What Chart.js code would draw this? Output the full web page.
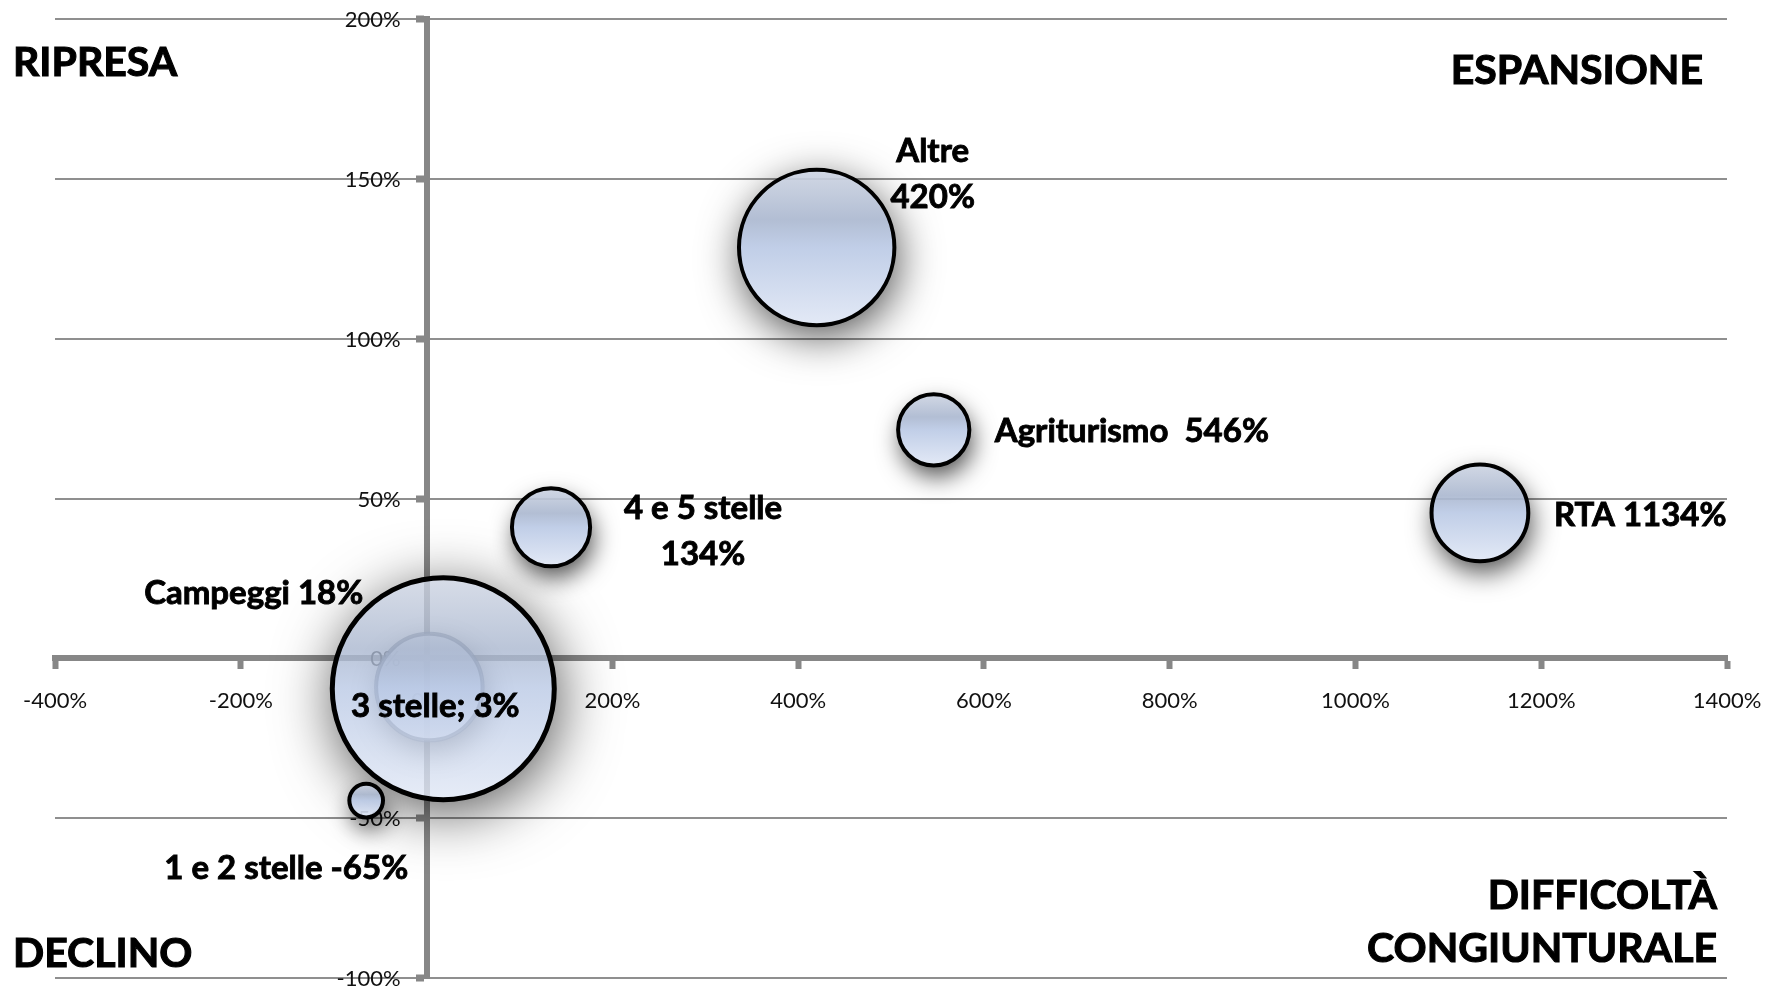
<!DOCTYPE html>
<html>
<head>
<meta charset="utf-8">
<script src="https://cdn.jsdelivr.net/npm/chart.js@4.4.1/dist/chart.umd.min.js"></script>
<style>
html, body { margin: 0; padding: 0; background: #fff; }
#wrap { width: 1779px; height: 989px; }
</style>
</head>
<body>
<div id="wrap"><canvas id="bubbleChart" width="1779" height="989"></canvas></div>
<script>
// dati (variazione % sull'asse x, variazione % sull'asse y, dimensione bolla)
const categorie = ['Altre', 'Agriturismo', '4 e 5 stelle', 'RTA', '3 stelle', 'Campeggi', '1 e 2 stelle'];
const variazioneX = [420, 546, 134, 1134, 3, 18, -65];
const variazioneY = [128.5, 71.5, 41, 45.5, -9, -9.5, -44.5];
const dimensioni = [49, 10.3, 12.4, 19, 23, 100, 2.3];
const etichette = [['Altre', '420%'], ['Agriturismo  546%'], ['4 e 5 stelle', '134%'], ['RTA 1134%'], ['3 stelle; 3%'], ['Campeggi 18%'], ['1 e 2 stelle -65%']];
const tickX = [-400, -200, 0, 200, 400, 600, 800, 1000, 1200, 1400];
const tickY = [-100, -50, 0, 50, 100, 150, 200];
const quadranti = ['RIPRESA', 'ESPANSIONE', 'DIFFICOLTÀ', 'CONGIUNTURALE', 'DECLINO'];

// posizione delle etichette rispetto al centro della bolla
const posEtichette = [
    { dx: 116, dy: -86, align: 'center' },
    { dx: 61, dy: 12, align: 'left' },
    { dx: 152, dy: -8, align: 'center' },
    { dx: 74, dy: 13, align: 'left' },
    { dx: 6, dy: 30, align: 'center' },
    { dx: -80, dy: -85, align: 'right' },
    { dx: 42, dy: 78, align: 'right' }
];
const posQuadranti = [
    { x: 13, y: 76, align: 'left' },
    { x: 1703, y: 84, align: 'right' },
    { x: 1717, y: 909, align: 'right' },
    { x: 1717, y: 962, align: 'right' },
    { x: 13, y: 967, align: 'left' }
];

const grigioAsse = '#878787';
const fontTick = '22px Lato';

function raggio(d) {
    return 111 * Math.sqrt(d / 100);
}

function riempimento(context) {
    const chart = context.chart;
    const i = context.dataIndex;
    const piatto = 'rgba(190,204,230,0.85)';
    if (context.type !== 'data' || !chart.scales || !chart.scales.y) return piatto;
    const yc = chart.scales.y.getPixelForValue(variazioneY[i]);
    const r = raggio(dimensioni[i]);
    if (!Number.isFinite(yc) || !Number.isFinite(r)) return piatto;
    const a = i === 5 ? 0.8 : 0.9;
    const g = chart.ctx.createLinearGradient(0, yc - r, 0, yc + r);
    g.addColorStop(0, `rgba(205,212,226,${a})`);
    g.addColorStop(0.32, `rgba(170,183,207,${a})`);
    g.addColorStop(0.5, `rgba(186,201,229,${a})`);
    g.addColorStop(1, `rgba(224,231,245,${a})`);
    return g;
}

// testo in grassetto un po' più pieno
function testoPieno(ctx, t, x, y) {
    ctx.fillText(t, x, y);
    ctx.strokeText(t, x, y);
}

// niente spazio riservato agli assi posizionati sullo zero
function senzaSpazio(s) {
    if (s.isHorizontal()) s.height = 0; else s.width = 0;
    s.paddingLeft = 0;
    s.paddingRight = 0;
    s.paddingTop = 0;
    s.paddingBottom = 0;
}

// etichette dell'asse y, a sinistra dell'asse verticale
const etichetteY = {
    id: 'etichetteY',
    beforeDatasetsDraw(chart) {
        const ctx = chart.ctx;
        const sy = chart.scales.y;
        const x0 = chart.scales.x.getPixelForValue(0);
        ctx.save();
        ctx.font = fontTick;
        ctx.fillStyle = '#111';
        ctx.textAlign = 'right';
        ctx.textBaseline = 'middle';
        sy.ticks.forEach((t) => {
            ctx.fillText(t.value + '%', x0 - 26, sy.getPixelForValue(t.value) + 1);
        });
        ctx.restore();
    }
};

// ombre sfumate sotto le bolle
const ombre = {
    id: 'ombre',
    beforeDatasetsDraw(chart) {
        const ctx = chart.ctx;
        const meta = chart.getDatasetMeta(0);
        meta.data.forEach((el) => {
            const r = el.options.radius;
            ctx.save();
            ctx.beginPath();
            ctx.rect(0, 0, chart.width, chart.height);
            ctx.arc(el.x, el.y, r + 1, 0, Math.PI * 2);
            ctx.clip('evenodd');
            ctx.shadowColor = 'rgba(0,0,0,0.7)';
            ctx.shadowBlur = Math.max(24, r * 0.55);
            ctx.shadowOffsetX = 10000 + 3;
            ctx.shadowOffsetY = 11;
            ctx.beginPath();
            ctx.arc(el.x - 10000, el.y, r, 0, Math.PI * 2);
            ctx.fillStyle = '#000';
            ctx.fill();
            ctx.restore();
        });
    }
};

// etichette dei punti
const etichettePunti = {
    id: 'etichettePunti',
    afterDatasetsDraw(chart) {
        const ctx = chart.ctx;
        const meta = chart.getDatasetMeta(0);
        ctx.save();
        ctx.font = 'bold 33px Lato';
        ctx.fillStyle = '#000';
        ctx.strokeStyle = '#000';
        ctx.lineWidth = 0.9;
        ctx.textBaseline = 'alphabetic';
        meta.data.forEach((el, i) => {
            const p = posEtichette[i];
            ctx.textAlign = p.align;
            etichette[i].forEach((riga, k) => {
                testoPieno(ctx, riga, el.x + p.dx, el.y + p.dy + k * 46);
            });
        });
        ctx.restore();
    }
};

// scritte dei quadranti
const scritteQuadranti = {
    id: 'scritteQuadranti',
    afterDraw(chart) {
        const ctx = chart.ctx;
        ctx.save();
        ctx.font = 'bold 41px Lato';
        ctx.fillStyle = '#000';
        ctx.strokeStyle = '#000';
        ctx.lineWidth = 1.1;
        ctx.textBaseline = 'alphabetic';
        quadranti.forEach((t, i) => {
            ctx.textAlign = posQuadranti[i].align;
            testoPieno(ctx, t, posQuadranti[i].x, posQuadranti[i].y);
        });
        ctx.restore();
    }
};

const punti = categorie.map((c, i) => ({ x: variazioneX[i], y: variazioneY[i], r: raggio(dimensioni[i]) }));

new Chart(document.getElementById('bubbleChart'), {
    type: 'bubble',
    data: {
        labels: categorie,
        datasets: [{
            data: punti,
            backgroundColor: riempimento,
            borderColor: categorie.map((c, i) => i === 4 ? 'rgba(70,80,100,0.75)' : '#000'),
            borderWidth: categorie.map((c, i) => i === 5 ? 5 : 4),
            clip: false
        }]
    },
    options: {
        responsive: false,
        animation: false,
        events: [],
        layout: { autoPadding: false, padding: { left: 55, right: 52, top: 19, bottom: 11 } },
        plugins: { legend: { display: false }, tooltip: { enabled: false } },
        scales: {
            x: {
                type: 'linear',
                position: { y: 0 },
                min: -400,
                max: 1400,
                afterBuildTicks: (s) => { s.ticks = tickX.map(v => ({ value: v })); },
                afterFit: senzaSpazio,
                grid: { drawOnChartArea: false, drawTicks: true, tickLength: 8, tickWidth: 6, tickColor: grigioAsse },
                border: { display: true, color: grigioAsse, width: 6 },
                ticks: {
                    autoSkip: false, maxRotation: 0, padding: 24,
                    color: '#111', font: { family: 'Lato', size: 22, lineHeight: 1 },
                    callback: (v) => v + '%'
                }
            },
            y: {
                type: 'linear',
                position: { x: 0 },
                min: -100,
                max: 200,
                afterBuildTicks: (s) => { s.ticks = tickY.map(v => ({ value: v })); },
                afterFit: senzaSpazio,
                grid: { drawOnChartArea: true, color: '#8f8f8f', lineWidth: 2, drawTicks: true, tickLength: 8, tickWidth: 7, tickColor: grigioAsse },
                border: { display: true, color: grigioAsse, width: 6 },
                ticks: { display: false }
            }
        }
    },
    plugins: [etichetteY, ombre, etichettePunti, scritteQuadranti]
});
</script>
</body>
</html>
